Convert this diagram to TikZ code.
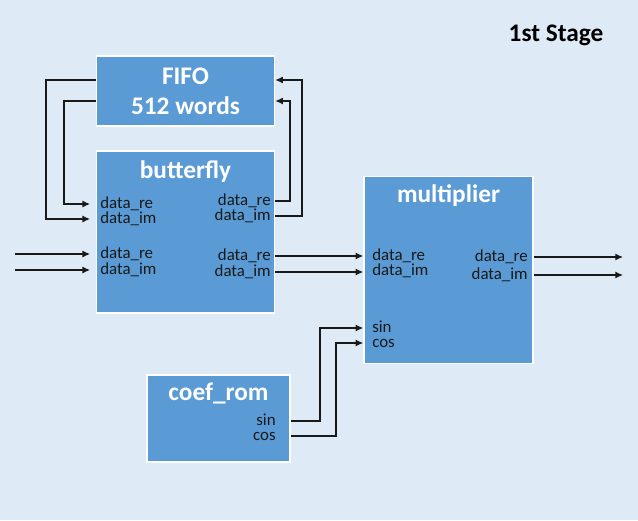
\documentclass[tikz,border=0pt]{standalone}
\usepackage{fontspec}
\setmainfont{Carlito}
\usetikzlibrary{calc,arrows.meta,positioning}
\definecolor{stagebg}{RGB}{222, 234, 246}
\definecolor{blockblue}{RGB}{91, 155, 213}
\tikzset{
  blocknode/.style={draw=white, line width=1pt, fill=blockblue, rectangle, inner sep=0pt},
  blocktitle/.style={text=white, font=\fontsize{18}{21.5}\selectfont\bfseries, align=center, inner sep=0pt},
  port/.style={font=\fontsize{12}{14}\selectfont, text=black!90, inner sep=0pt, text height=1.6ex, text depth=0.3ex},
  arrow/.style={-{Latex[length=5.5pt,width=5pt]}, line width=0.9pt, black!90}
}

\begin{document}
\begin{tikzpicture}[x=0.025cm, y=-0.025cm]
  \fill[stagebg] (0,0) rectangle (638,520);
  \node[font=\fontsize{18}{22}\selectfont\bfseries, inner sep=0pt] (stage) at (556,35) {1st Stage};

  % blocks
  \node[blocknode, blocktitle, minimum width=4.45cm, minimum height=1.75cm] (fifo) at (185.5,91) {FIFO\\512 words};
  \node[blocknode, minimum width=4.45cm, minimum height=4.05cm] (bfly) at (185.5,232) {};
  \node[blocknode, minimum width=4.225cm, minimum height=4.675cm] (mul) at (448.5,270) {};
  \node[blocknode, minimum width=3.575cm, minimum height=2.175cm] (rom) at (218.5,418.5) {};

  \node[blocktitle] (bfly-title) at ($(bfly.north)+(0,21)$) {butterfly};
  \node[blocktitle] (mul-title) at ($(mul.north)+(0,20)$) {multiplier};
  \node[blocktitle] (rom-title) at ($(rom.north)+(0,19)$) {coef\_rom};

  % ports
  \node[port, anchor=west] (bf-ire1) at (100,204) {data\_re};
  \node[port, anchor=west] (bf-iim1) at (100,219) {data\_im};
  \node[port, anchor=west] (bf-ire2) at (100,254) {data\_re};
  \node[port, anchor=west] (bf-iim2) at (100,270) {data\_im};
  \node[port, anchor=east] (bf-ore1) at (271,201) {data\_re};
  \node[port, anchor=east] (bf-oim1) at (271,216) {data\_im};
  \node[port, anchor=east] (bf-ore2) at (271,256) {data\_re};
  \node[port, anchor=east] (bf-oim2) at (271,272) {data\_im};

  \node[port, anchor=west] (mul-ire) at (372,256) {data\_re};
  \node[port, anchor=west] (mul-iim) at (372,271) {data\_im};
  \node[port, anchor=west] (mul-sin) at (372,328) {sin};
  \node[port, anchor=west] (mul-cos) at (372,343) {cos};
  \node[port, anchor=east] (mul-ore) at (528,257) {data\_re};
  \node[port, anchor=east] (mul-oim) at (528,275) {data\_im};

  \node[port, anchor=east] (rom-sin) at (276,421) {sin};
  \node[port, anchor=east] (rom-cos) at (276,436) {cos};

  \coordinate (in-re) at (15,254);
  \coordinate (in-im) at (15,270);
  \coordinate (out-re) at (623,257);
  \coordinate (out-im) at (623,275);

  % feedback through the fifo
  \draw[arrow, shorten >=4pt] (fifo.west |- 0,80) -- (46,80) |- (bfly.west |- bf-iim1);
  \draw[arrow, shorten >=4pt] (fifo.west |- 0,101) -- (64,101) |- (bfly.west |- bf-ire1);
  \draw[arrow] (bfly.east |- bf-ore1) -| (290,101) -- (fifo.east |- 0,101);
  \draw[arrow] (bfly.east |- bf-oim1) -| (302,80) -- (fifo.east |- 0,80);

  % data path
  \draw[arrow, shorten >=4pt] (in-re) -- (in-re -| bfly.west);
  \draw[arrow, shorten >=4pt] (in-im) -- (in-im -| bfly.west);
  \draw[arrow] (bfly.east |- bf-ore2) -- (mul.west |- bf-ore2);
  \draw[arrow] (bfly.east |- bf-oim2) -- (mul.west |- bf-oim2);
  \draw[arrow] (mul.east |- mul-ore) -- (out-re);
  \draw[arrow] (mul.east |- mul-oim) -- (out-im);

  % twiddle factors
  \draw[arrow] (rom.east |- rom-sin) -- (320,421) |- (mul.west |- mul-sin);
  \draw[arrow] (rom.east |- rom-cos) -- (336,436) |- (mul.west |- mul-cos);
\end{tikzpicture}
\end{document}
